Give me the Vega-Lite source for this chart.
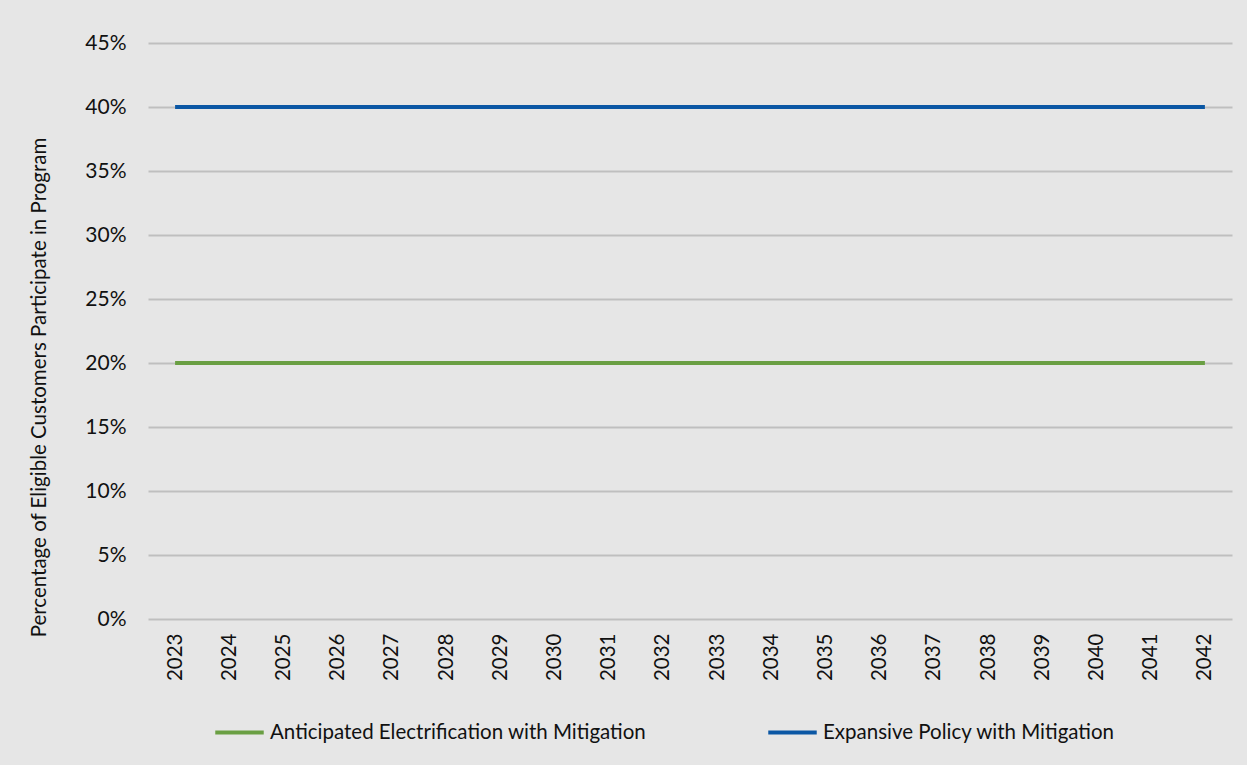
{
  "$schema": "https://vega.github.io/schema/vega-lite/v6.json",
  "width": 1084,
  "height": 576,
  "autosize": {"type": "none"},
  "padding": {"left": 148, "top": 43, "right": 15, "bottom": 146},
  "background": "#e6e6e6",
  "config": {
    "view": {"stroke": null},
    "font": "Lato",
    "axis": {"labelFont": "Lato", "titleFont": "Lato", "labelColor": "#111111", "titleColor": "#111111"}
  },
  "data": {
    "values": [
      {"year": "2023", "series": "Anticipated Electrification with Mitigation", "share": 0.2},
      {"year": "2024", "series": "Anticipated Electrification with Mitigation", "share": 0.2},
      {"year": "2025", "series": "Anticipated Electrification with Mitigation", "share": 0.2},
      {"year": "2026", "series": "Anticipated Electrification with Mitigation", "share": 0.2},
      {"year": "2027", "series": "Anticipated Electrification with Mitigation", "share": 0.2},
      {"year": "2028", "series": "Anticipated Electrification with Mitigation", "share": 0.2},
      {"year": "2029", "series": "Anticipated Electrification with Mitigation", "share": 0.2},
      {"year": "2030", "series": "Anticipated Electrification with Mitigation", "share": 0.2},
      {"year": "2031", "series": "Anticipated Electrification with Mitigation", "share": 0.2},
      {"year": "2032", "series": "Anticipated Electrification with Mitigation", "share": 0.2},
      {"year": "2033", "series": "Anticipated Electrification with Mitigation", "share": 0.2},
      {"year": "2034", "series": "Anticipated Electrification with Mitigation", "share": 0.2},
      {"year": "2035", "series": "Anticipated Electrification with Mitigation", "share": 0.2},
      {"year": "2036", "series": "Anticipated Electrification with Mitigation", "share": 0.2},
      {"year": "2037", "series": "Anticipated Electrification with Mitigation", "share": 0.2},
      {"year": "2038", "series": "Anticipated Electrification with Mitigation", "share": 0.2},
      {"year": "2039", "series": "Anticipated Electrification with Mitigation", "share": 0.2},
      {"year": "2040", "series": "Anticipated Electrification with Mitigation", "share": 0.2},
      {"year": "2041", "series": "Anticipated Electrification with Mitigation", "share": 0.2},
      {"year": "2042", "series": "Anticipated Electrification with Mitigation", "share": 0.2},
      {"year": "2023", "series": "Expansive Policy with Mitigation", "share": 0.4},
      {"year": "2024", "series": "Expansive Policy with Mitigation", "share": 0.4},
      {"year": "2025", "series": "Expansive Policy with Mitigation", "share": 0.4},
      {"year": "2026", "series": "Expansive Policy with Mitigation", "share": 0.4},
      {"year": "2027", "series": "Expansive Policy with Mitigation", "share": 0.4},
      {"year": "2028", "series": "Expansive Policy with Mitigation", "share": 0.4},
      {"year": "2029", "series": "Expansive Policy with Mitigation", "share": 0.4},
      {"year": "2030", "series": "Expansive Policy with Mitigation", "share": 0.4},
      {"year": "2031", "series": "Expansive Policy with Mitigation", "share": 0.4},
      {"year": "2032", "series": "Expansive Policy with Mitigation", "share": 0.4},
      {"year": "2033", "series": "Expansive Policy with Mitigation", "share": 0.4},
      {"year": "2034", "series": "Expansive Policy with Mitigation", "share": 0.4},
      {"year": "2035", "series": "Expansive Policy with Mitigation", "share": 0.4},
      {"year": "2036", "series": "Expansive Policy with Mitigation", "share": 0.4},
      {"year": "2037", "series": "Expansive Policy with Mitigation", "share": 0.4},
      {"year": "2038", "series": "Expansive Policy with Mitigation", "share": 0.4},
      {"year": "2039", "series": "Expansive Policy with Mitigation", "share": 0.4},
      {"year": "2040", "series": "Expansive Policy with Mitigation", "share": 0.4},
      {"year": "2041", "series": "Expansive Policy with Mitigation", "share": 0.4},
      {"year": "2042", "series": "Expansive Policy with Mitigation", "share": 0.4}
    ]
  },
  "mark": {"type": "line", "strokeWidth": 4, "strokeCap": "butt"},
  "encoding": {
    "x": {
      "field": "year",
      "type": "ordinal",
      "scale": {"type": "point", "padding": 0.5},
      "axis": {
        "title": null,
        "labelAngle": -90,
        "labelFontSize": 20.5,
        "labelPadding": 14,
        "ticks": false,
        "domain": false,
        "grid": false
      }
    },
    "y": {
      "field": "share",
      "type": "quantitative",
      "scale": {"domain": [0, 0.45], "nice": false},
      "axis": {
        "title": "Percentage of Eligible Customers Participate in Program",
        "titleFontSize": 20.5,
        "titleFontWeight": "normal",
        "titleX": -103,
        "titleY": 344,
        "titleBaseline": "alphabetic",
        "format": ".0%",
        "values": [0, 0.05, 0.1, 0.15, 0.2, 0.25, 0.3, 0.35, 0.4, 0.45],
        "labelFontSize": 21,
        "labelPadding": 22,
        "ticks": false,
        "domain": false,
        "grid": true,
        "gridColor": "#bfbfbf",
        "gridWidth": 2
      }
    },
    "color": {
      "field": "series",
      "type": "nominal",
      "scale": {
        "domain": ["Anticipated Electrification with Mitigation", "Expansive Policy with Mitigation"],
        "range": ["#6a9f43", "#0b57a4"]
      },
      "legend": {
        "title": null,
        "orient": "none",
        "legendX": 65,
        "legendY": 663,
        "direction": "horizontal",
        "symbolType": "stroke",
        "symbolSize": 2350,
        "symbolStrokeWidth": 4,
        "labelFontSize": 20.5,
        "labelColor": "#111111",
        "labelOffset": 4,
        "labelLimit": 500,
        "columnPadding": 113
      }
    }
  }
}
